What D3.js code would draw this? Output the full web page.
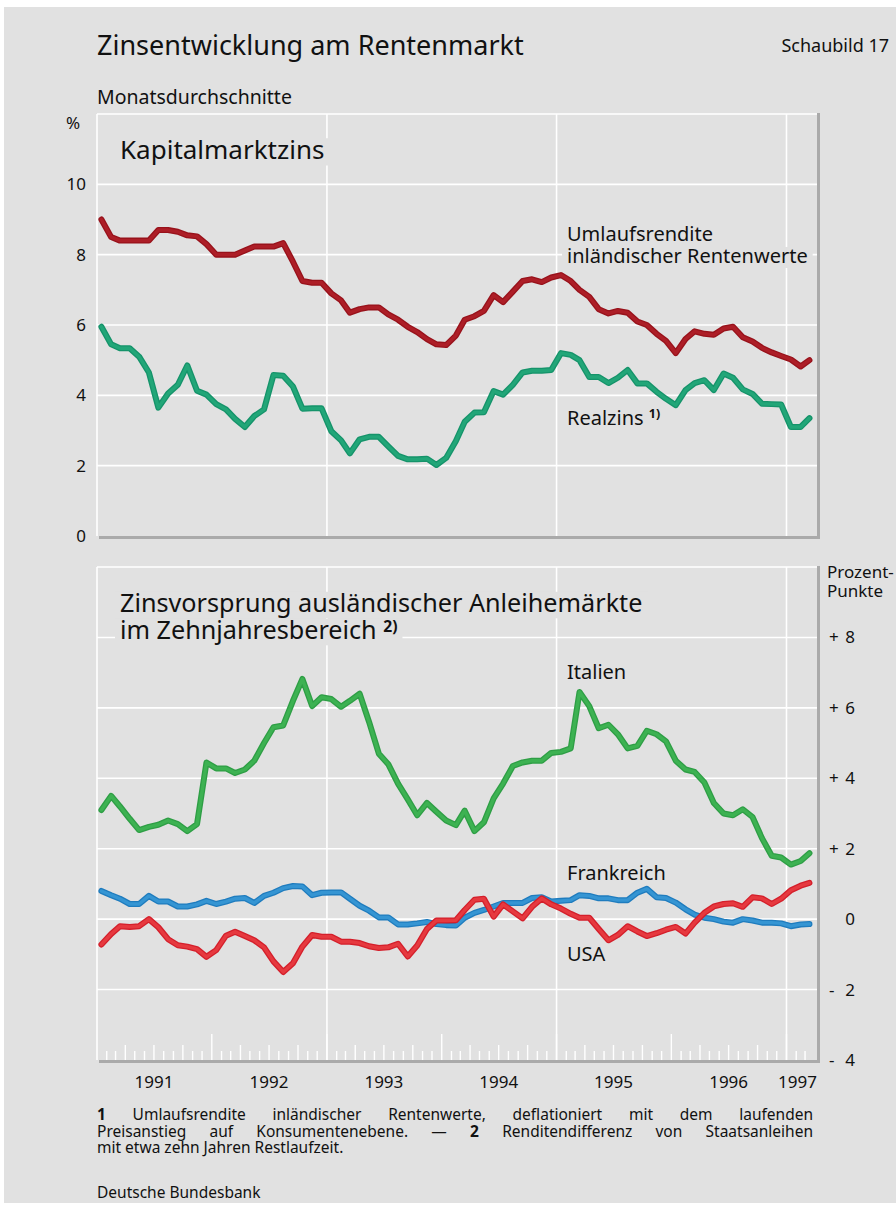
<!DOCTYPE html>
<html lang="de">
<head>
<meta charset="utf-8">
<script src="https://cdn.jsdelivr.net/npm/d3@7"></script>
<style>
  body { margin: 0; background: #fff; }
  svg text { font-family: "Noto Sans", "Open Sans", sans-serif; fill: #111; }
</style>
</head>
<body>
<svg id="chart" width="896" height="1211"></svg>
<script>
// Monatsdurchschnitte, Jan 1991 bis Mar 1997
const startYear = 1991;

const umlaufsrendite = [
    9.0, 8.5, 8.4, 8.4, 8.4, 8.4, 8.7, 8.7, 8.65, 8.55, 8.52, 8.3,
    8.0, 8.0, 8.0, 8.12, 8.23, 8.23, 8.23, 8.33, 7.8, 7.25, 7.2, 7.2,
    6.9, 6.7, 6.35, 6.45, 6.5, 6.5, 6.3, 6.15, 5.95, 5.8, 5.6, 5.45,
    5.43, 5.7, 6.15, 6.25, 6.4, 6.85, 6.65, 6.95, 7.25, 7.3, 7.22, 7.35,
    7.42, 7.25, 7.0, 6.8, 6.45, 6.33, 6.4, 6.35, 6.1, 6.0, 5.75, 5.55,
    5.2, 5.6, 5.82, 5.75, 5.72, 5.9, 5.95, 5.65, 5.53, 5.35, 5.22, 5.12,
    5.02, 4.82, 5.0
];
const realzins = [
    5.95, 5.45, 5.34, 5.34, 5.1, 4.65, 3.65, 4.05, 4.3, 4.85, 4.13, 4.02,
    3.75, 3.6, 3.33, 3.1, 3.41, 3.6, 4.58, 4.56, 4.25, 3.62, 3.63, 3.63,
    2.98, 2.72, 2.35, 2.75, 2.82, 2.82, 2.55, 2.28, 2.18, 2.18, 2.2, 2.02,
    2.22, 2.7, 3.25, 3.51, 3.52, 4.12, 4.02, 4.3, 4.65, 4.7, 4.7, 4.72,
    5.2, 5.15, 5.0, 4.52, 4.52, 4.35, 4.5, 4.72, 4.34, 4.34, 4.1, 3.9,
    3.72, 4.15, 4.35, 4.43, 4.15, 4.62, 4.5, 4.17, 4.04, 3.76, 3.75, 3.74,
    3.1, 3.1, 3.35
];
const italien = [
    3.1, 3.5, 3.2, 2.85, 2.53, 2.62, 2.68, 2.8, 2.7, 2.5, 2.7, 4.45,
    4.28, 4.28, 4.15, 4.25, 4.5, 5.0, 5.45, 5.5, 6.2, 6.82, 6.05, 6.3,
    6.25, 6.03, 6.2, 6.4, 5.6, 4.7, 4.4, 3.85, 3.4, 2.95, 3.3, 3.05,
    2.8, 2.67, 3.08, 2.5, 2.75, 3.43, 3.85, 4.35, 4.45, 4.5, 4.5, 4.72,
    4.75, 4.85, 6.45, 6.05, 5.42, 5.52, 5.25, 4.85, 4.92, 5.35, 5.25, 5.05,
    4.5, 4.25, 4.18, 3.88, 3.3, 3.0, 2.95, 3.12, 2.9, 2.3, 1.8, 1.75,
    1.55, 1.65, 1.87
];
const frankreich = [
    0.8, 0.68, 0.58, 0.43, 0.43, 0.66, 0.5, 0.5, 0.36, 0.36, 0.42, 0.52,
    0.43, 0.5, 0.58, 0.6, 0.46, 0.66, 0.75, 0.88, 0.94, 0.93, 0.68, 0.75,
    0.76, 0.76, 0.58, 0.38, 0.24, 0.05, 0.05, -0.15, -0.15, -0.12, -0.08, -0.14,
    -0.17, -0.18, 0.04, 0.18, 0.26, 0.36, 0.46, 0.46, 0.46, 0.6, 0.62, 0.5,
    0.52, 0.54, 0.68, 0.66, 0.59, 0.59, 0.54, 0.54, 0.75, 0.86, 0.62, 0.6,
    0.47, 0.28, 0.13, 0.04, 0.0, -0.07, -0.1, 0.0, -0.04, -0.1, -0.1, -0.12,
    -0.2, -0.15, -0.14
];
const usa = [
    -0.72, -0.42, -0.2, -0.22, -0.2, 0.0, -0.23, -0.57, -0.74, -0.78, -0.85, -1.07,
    -0.88, -0.47, -0.36, -0.48, -0.6, -0.8, -1.2, -1.5, -1.25, -0.78, -0.45, -0.5,
    -0.5, -0.64, -0.64, -0.68, -0.77, -0.82, -0.8, -0.7, -1.06, -0.75, -0.28, -0.04,
    -0.04, -0.03, 0.26, 0.55, 0.58, 0.07, 0.42, 0.22, 0.02, 0.35, 0.59, 0.42,
    0.3, 0.15, 0.04, 0.04, -0.28, -0.6, -0.45, -0.2, -0.35, -0.48, -0.4, -0.3,
    -0.22, -0.41, -0.1, 0.18, 0.36, 0.43, 0.45, 0.35, 0.62, 0.59, 0.43, 0.58,
    0.82, 0.95, 1.03
];

const years = [1991, 1992, 1993, 1994, 1995, 1996, 1997];
const gridYears = [1993, 1995, 1997];
const topTicks = [0, 2, 4, 6, 8, 10];
const bottomTicks = [-4, -2, 0, 2, 4, 6, 8];

const bg = "#e1e1e1";
const shadow = "#aaaaaa";

const svg = d3.select("#chart");
const monthDate = i => new Date(startYear, i, 15);

// page background
svg.append("rect")
    .attr("x", 4).attr("y", 7)
    .attr("width", 892).attr("height", 1196)
    .attr("fill", bg);

const x = d3.scaleTime()
    .domain([new Date(1991, 0, 1), new Date(1997, 3, 8)])
    .range([97, 817]);

const yTop = d3.scaleLinear().domain([0, 12]).range([536, 114]);
const yBot = d3.scaleLinear().domain([-4, 10]).range([1060, 567]);

const drawFrame = (y, hTicks) => {
    const g = svg.append("g");
    const [x0, x1] = x.range();
    const [yb, yt] = y.range();

    g.selectAll(".hgrid")
        .data(hTicks.filter(d => d !== y.domain()[0]))
        .enter().append("line")
        .attr("x1", x0).attr("x2", x1)
        .attr("y1", d => y(d)).attr("y2", d => y(d))
        .attr("stroke", "#fff").attr("stroke-width", 1.6);

    // top + left edges
    g.append("line").attr("x1", x0).attr("x2", x1).attr("y1", yt).attr("y2", yt)
        .attr("stroke", "#fff").attr("stroke-width", 1.6);
    g.append("line").attr("x1", x0).attr("x2", x0).attr("y1", yt).attr("y2", yb)
        .attr("stroke", "#fff").attr("stroke-width", 1.6);

    g.selectAll(".vgrid")
        .data(gridYears)
        .enter().append("line")
        .attr("x1", d => x(new Date(d, 0, 1))).attr("x2", d => x(new Date(d, 0, 1)))
        .attr("y1", yt).attr("y2", yb)
        .attr("stroke", "#fff").attr("stroke-width", 1.6);

    // shadow on right and bottom
    g.append("line").attr("x1", x1 + 1.5).attr("x2", x1 + 1.5).attr("y1", yt - 1).attr("y2", yb + 3)
        .attr("stroke", shadow).attr("stroke-width", 3);
    g.append("line").attr("x1", x0 + 2).attr("x2", x1 + 3).attr("y1", yb + 1.5).attr("y2", yb + 1.5)
        .attr("stroke", shadow).attr("stroke-width", 3);
    return g;
};

const topFrame = drawFrame(yTop, topTicks);
const botFrame = drawFrame(yBot, bottomTicks);

// month ticks along bottom axis
const months = d3.timeMonth.range(new Date(1991, 1, 1), new Date(1997, 3, 1));
botFrame.selectAll(".mtick")
    .data(months)
    .enter().append("line")
    .attr("x1", d => x(d)).attr("x2", d => x(d))
    .attr("y1", 1060)
    .attr("y2", d => 1060 - (d.getMonth() === 0 ? 26 : d.getMonth() % 3 === 0 ? 15 : 9))
    .attr("stroke", "#fff").attr("stroke-width", 1.4);

// axis labels
svg.append("g").selectAll("text")
    .data(topTicks)
    .enter().append("text")
    .attr("x", 86).attr("y", d => yTop(d) + 6)
    .attr("text-anchor", "end")
    .attr("font-size", 17)
    .text(d => d);

svg.append("text").attr("x", 66).attr("y", 129).attr("font-size", 17).text("%");

const rightLab = svg.append("g").selectAll("g")
    .data(bottomTicks)
    .enter().append("g");
rightLab.append("text")
    .attr("x", 855).attr("y", d => yBot(d) + 6)
    .attr("text-anchor", "end").attr("font-size", 17)
    .text(d => Math.abs(d));
rightLab.append("text")
    .attr("x", 829).attr("y", d => yBot(d) + 6)
    .attr("font-size", 17)
    .text(d => d > 0 ? "+" : d < 0 ? "-" : "");

svg.append("text").attr("x", 827).attr("y", 578).attr("font-size", 17).text("Prozent-");
svg.append("text").attr("x", 827).attr("y", 597).attr("font-size", 17).text("Punkte");

svg.append("g").selectAll("text")
    .data(years)
    .enter().append("text")
    .attr("x", d => d === 1997 ? x(new Date(1997, 1, 5)) : x(new Date(d, 6, 1)))
    .attr("y", 1088)
    .attr("text-anchor", "middle")
    .attr("font-size", 17)
    .text(d => d);

// labels with a background box so the gridlines break behind them
const labels = [
    [120, 159, 26, "Kapitalmarktzins"],
    [567, 241, 20, "Umlaufsrendite"],
    [567, 263, 20, "inländischer Rentenwerte"],
    [567, 425, 20, "Realzins", "1)"],
    [120, 612, 25.2, "Zinsvorsprung ausländischer Anleihemärkte"],
    [120, 639, 25.2, "im Zehnjahresbereich", "2)"],
    [567, 679, 20, "Italien"],
    [567, 880, 20, "Frankreich"],
    [567, 961, 20, "USA"]
];
const boxLayer = svg.append("g");
const textLayer = svg.append("g");
labels.forEach(([xp, yp, size, txt, sup]) => {
    const t = textLayer.append("text")
        .attr("x", xp).attr("y", yp)
        .attr("font-size", size)
        .text(txt);
    if (sup) {
        t.append("tspan").text(" ");
        t.append("tspan").attr("dy", -7).attr("font-size", size * 0.62)
            .attr("font-weight", "bold").text(sup);
    }
    const b = t.node().getBBox();
    boxLayer.append("rect")
        .attr("x", b.x - 5).attr("y", yp - size * 0.8)
        .attr("width", b.width + 10).attr("height", size * 1.05)
        .attr("fill", bg);
});

// series lines
const drawSeries = (values, y, outer, inner) => {
    const line = d3.line()
        .x((d, i) => x(monthDate(i)))
        .y(d => y(d));
    svg.append("path").datum(values)
        .attr("d", line).attr("fill", "none")
        .attr("stroke", outer).attr("stroke-width", 6)
        .attr("stroke-linejoin", "round").attr("stroke-linecap", "round");
    svg.append("path").datum(values)
        .attr("d", line).attr("fill", "none")
        .attr("stroke", inner).attr("stroke-width", 3.4)
        .attr("stroke-linejoin", "round").attr("stroke-linecap", "round");
};

drawSeries(umlaufsrendite, yTop, "#98121b", "#ad1e27");
drawSeries(realzins, yTop, "#15936a", "#22a678");
drawSeries(italien, yBot, "#2e9e45", "#3db252");
drawSeries(frankreich, yBot, "#1f7cbe", "#3595d3");
drawSeries(usa, yBot, "#d41f2b", "#e6393f");

// header
svg.append("text").attr("x", 97).attr("y", 55).attr("font-size", 27)
    .text("Zinsentwicklung am Rentenmarkt");
svg.append("text").attr("x", 889).attr("y", 52).attr("font-size", 18)
    .attr("text-anchor", "end").text("Schaubild 17");
svg.append("text").attr("x", 97).attr("y", 104).attr("font-size", 19.5)
    .text("Monatsdurchschnitte");

// footnotes, first two lines justified
const footLines = [
    [["1", true], [" Umlaufsrendite inländischer Rentenwerte, deflationiert mit dem laufenden", false]],
    [["Preisanstieg auf Konsumentenebene. — ", false], ["2", true], [" Renditendifferenz von Staatsanleihen", false]],
    [["mit etwa zehn Jahren Restlaufzeit.", false]]
];
footLines.forEach((parts, li) => {
    const t = svg.append("text")
        .attr("x", 97).attr("y", 1120 + li * 16.5)
        .attr("font-size", 15.5);
    parts.forEach(([s, b]) => t.append("tspan").attr("font-weight", b ? "bold" : null).text(s));
    if (li < 2) {
        const full = parts.map(p => p[0]).join("");
        const spaces = (full.match(/ /g) || []).length;
        const w = t.node().getComputedTextLength();
        t.attr("word-spacing", Math.max(0, (716 - w) / spaces));
    }
});

svg.append("text").attr("x", 97).attr("y", 1198).attr("font-size", 15.5)
    .text("Deutsche Bundesbank");
</script>
</body>
</html>
